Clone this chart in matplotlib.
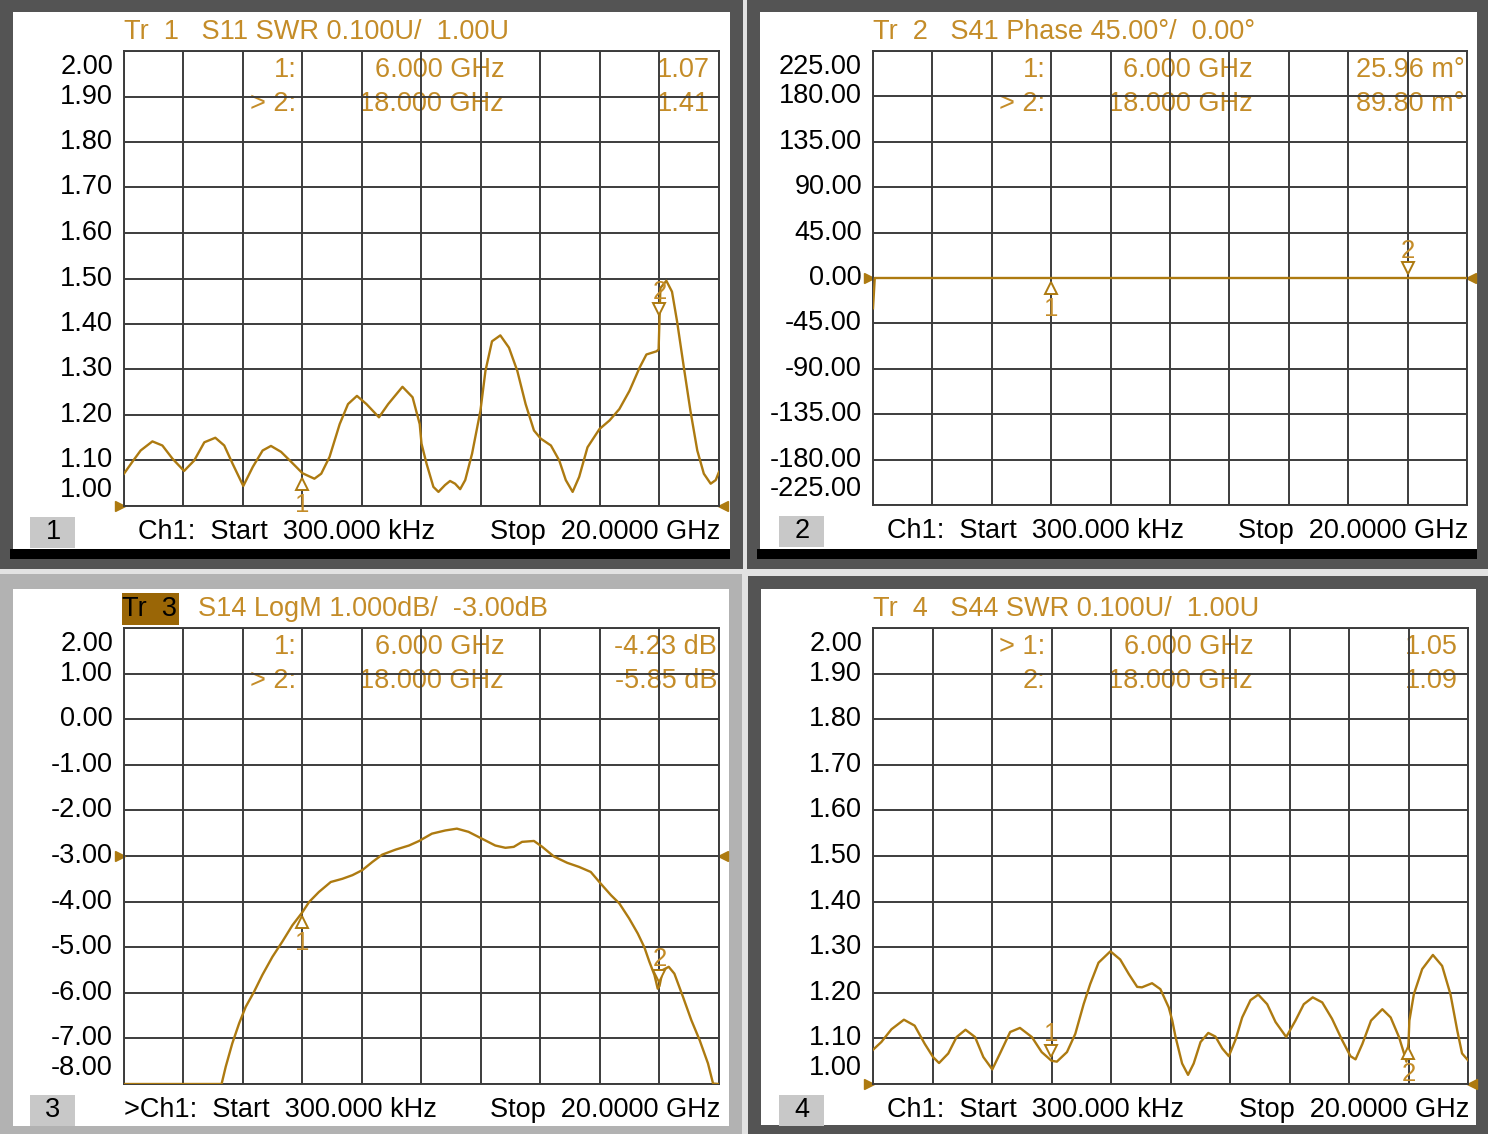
import matplotlib
matplotlib.use("Agg")
import matplotlib.pyplot as plt
import matplotlib.transforms as mtransforms
from matplotlib.patches import Rectangle
import numpy as np

plt.rcParams['font.family'] = ['Liberation Sans', 'DejaVu Sans']

# --- trace data (GHz, value) ---
s11_f = [0, 0.28, 0.56, 0.955, 1.29, 1.63, 2.02, 2.36, 2.70, 3.07, 3.37, 3.65, 4.01, 4.33, 4.66,
         4.94, 5.28, 5.62, 6.0, 6.40, 6.63, 6.91, 7.25, 7.53, 7.83, 8.15, 8.57, 8.88, 9.36, 9.70,
         9.94, 10.0, 10.17, 10.40, 10.57, 10.79, 10.96, 11.13, 11.30, 11.47, 11.70, 11.98, 12.15,
         12.37, 12.65, 12.94, 13.22, 13.50, 13.78, 14.01, 14.35, 14.63, 14.85, 15.08, 15.30, 15.58,
         15.98, 16.32, 16.65, 16.99, 17.33, 17.56, 17.90, 17.97, 18.0, 18.03, 18.23, 18.42, 18.59,
         18.82, 19.04, 19.27, 19.49, 19.72, 19.89, 20.0]
s11_v = [1.071, 1.097, 1.122, 1.142, 1.133, 1.104, 1.077, 1.100, 1.140, 1.150, 1.133, 1.093, 1.044,
         1.086, 1.122, 1.132, 1.119, 1.097, 1.072, 1.060, 1.071, 1.108, 1.180, 1.224, 1.242, 1.224,
         1.195, 1.224, 1.262, 1.239, 1.180, 1.137, 1.093, 1.042, 1.031, 1.046, 1.055, 1.049, 1.037,
         1.057, 1.115, 1.209, 1.297, 1.362, 1.375, 1.348, 1.297, 1.224, 1.166, 1.148, 1.133, 1.100,
         1.057, 1.031, 1.064, 1.129, 1.169, 1.188, 1.213, 1.253, 1.304, 1.333, 1.340, 1.344, 1.41,
         1.479, 1.495, 1.471, 1.406, 1.304, 1.209, 1.122, 1.071, 1.049, 1.057, 1.075]

s41_f = [0.0003, 0.06, 20.0]
s41_v = [-30.0, 0.0, 0.0]

s14_f = [0, 3.28, 3.42, 3.64, 3.87, 4.09, 4.37, 4.65, 4.99, 5.32, 5.66, 6.0, 6.22, 6.55, 6.95,
         7.34, 7.68, 8.01, 8.35, 8.68, 9.13, 9.58, 9.92, 10.35, 10.80, 11.19, 11.58, 12.03, 12.48,
         12.82, 13.10, 13.38, 13.78, 14.06, 14.45, 14.90, 15.30, 15.69, 16.03, 16.37, 16.65, 16.98,
         17.27, 17.49, 17.66, 17.83, 17.94, 18.0, 18.11, 18.31, 18.50, 18.79, 19.07, 19.35, 19.63,
         19.80, 20.0]
s14_v = [-8.0, -8.0, -7.62, -7.11, -6.67, -6.31, -5.98, -5.61, -5.21, -4.88, -4.52, -4.23, -4.01,
         -3.79, -3.57, -3.50, -3.42, -3.31, -3.13, -2.97, -2.86, -2.77, -2.67, -2.51, -2.44, -2.40,
         -2.47, -2.62, -2.77, -2.82, -2.80, -2.69, -2.67, -2.80, -3.01, -3.15, -3.24, -3.35, -3.61,
         -3.86, -4.04, -4.37, -4.70, -5.0, -5.32, -5.61, -5.91, -5.85, -5.50, -5.43, -5.58, -6.09,
         -6.60, -7.04, -7.55, -7.99, -8.0]

s44_f = [0, 0.28, 0.62, 1.04, 1.40, 1.74, 2.02, 2.22, 2.53, 2.81, 3.11, 3.43, 3.71, 4.01, 4.27,
         4.61, 4.94, 5.34, 5.67, 6.0, 6.18, 6.52, 6.80, 7.08, 7.30, 7.58, 7.98, 8.31, 8.60, 8.88,
         9.04, 9.38, 9.66, 9.94, 10.06, 10.17, 10.39, 10.59, 10.78, 11.01, 11.27, 11.51, 11.74,
         11.96, 12.18, 12.41, 12.69, 12.95, 13.25, 13.53, 13.89, 14.20, 14.48, 14.78, 15.10, 15.43,
         15.77, 16.05, 16.22, 16.45, 16.74, 17.12, 17.40, 17.68, 17.85, 17.93, 18.0, 18.03, 18.18,
         18.46, 18.82, 19.13, 19.41, 19.64, 19.80, 20.0]
s44_v = [1.075, 1.092, 1.120, 1.141, 1.128, 1.088, 1.059, 1.046, 1.067, 1.103, 1.119, 1.103, 1.059,
         1.032, 1.067, 1.114, 1.123, 1.103, 1.070, 1.051, 1.049, 1.070, 1.110, 1.175, 1.219, 1.266,
         1.291, 1.273, 1.241, 1.213, 1.212, 1.221, 1.208, 1.168, 1.139, 1.103, 1.045, 1.020, 1.045,
         1.092, 1.112, 1.104, 1.078, 1.061, 1.096, 1.146, 1.184, 1.196, 1.175, 1.136, 1.103, 1.139,
         1.175, 1.190, 1.179, 1.143, 1.096, 1.061, 1.054, 1.088, 1.139, 1.164, 1.146, 1.103, 1.067,
         1.049, 1.09, 1.139, 1.197, 1.252, 1.283, 1.259, 1.197, 1.117, 1.067, 1.052]

# markers
mk_f = [6.0, 18.0]
s11_mk = [1.07, 1.41]
s41_mk = [0.02596, 0.0898]
s14_mk = [-4.23, -5.85]
s44_mk = [1.05, 1.09]

swr_ticks = ["2.00", "1.90", "1.80", "1.70", "1.60", "1.50", "1.40", "1.30", "1.20", "1.10", "1.00"]
phase_ticks = ["225.00", "180.00", "135.00", "90.00", "45.00", "0.00", "-45.00", "-90.00",
               "-135.00", "-180.00", "-225.00"]
logm_ticks = ["2.00", "1.00", "0.00", "-1.00", "-2.00", "-3.00", "-4.00", "-5.00", "-6.00",
              "-7.00", "-8.00"]

TRACE = "#ad7a10"
TXT = "#c48c28"
GRID = "#3c3c3c"
FS = 19.5

W, H = 1488, 1134
fig = plt.figure(figsize=(W / 100, H / 100), dpi=100, facecolor="#e2e2e2")
bg = fig.add_axes([0, 0, 1, 1])
bg.set_xlim(0, W)
bg.set_ylim(H, 0)
bg.axis("off")


def frame(x0, y0, x1, y1, col, inner, bar=True):
    bg.add_patch(Rectangle((x0, y0), x1 - x0, y1 - y0, color=col, lw=0))
    ix0, iy0, ix1, iy1 = inner
    bg.add_patch(Rectangle((ix0, iy0), ix1 - ix0, iy1 - iy0, color="white", lw=0))
    if bar:
        bg.add_patch(Rectangle((ix0 - 3, iy1), ix1 - ix0 + 3, 10, color="black", lw=0))


frame(0, 0, 743, 569, "#545454", (13, 12, 730, 549))
frame(747, 0, 1488, 569, "#545454", (760, 12, 1477, 549))
frame(0, 574, 742, 1134, "#b2b2b2", (13, 589, 729, 1126), bar=False)
frame(748, 576, 1488, 1134, "#545454", (761, 589, 1476, 1125), bar=False)


def panel(box, f, v, ylo, yhi, ticks, ref, mk_v, active, title, rows, num, rpad=8, chpre="",
          trbox=False):
    x0, y0, x1, y1 = box
    ax = fig.add_axes([x0 / W, 1 - y1 / H, (x1 - x0) / W, (y1 - y0) / H])
    ax.set_xlim(0.0003, 20.0)
    ax.set_ylim(ylo, yhi)
    ax.set_xticks(np.linspace(0.0003, 20.0, 11))
    ax.set_yticks(np.linspace(ylo, yhi, 11))
    ax.tick_params(length=0, labelbottom=False, labelleft=False)
    ax.grid(True, color=GRID, lw=1.4)
    for s in ax.spines.values():
        s.set_color(GRID)
        s.set_linewidth(1.4)
    ax.set_facecolor("none")
    ax.plot(f, v, color=TRACE, lw=1.7, zorder=3)

    # y labels, end ones pushed inside
    yv = np.linspace(yhi, ylo, 11)
    for i, (val, lab) in enumerate(zip(yv, ticks)):
        dy = -16 if i == 0 else (16 if i == 10 else 0)
        tr = mtransforms.offset_copy(ax.get_yaxis_transform(), fig=fig, x=-11, y=dy, units="dots")
        ax.text(0, val, lab, transform=tr, ha="right", va="center", fontsize=FS, color="black")

    # reference arrows
    tl = mtransforms.offset_copy(ax.transData, fig=fig, x=-4, units="dots")
    tr_ = mtransforms.offset_copy(ax.transData, fig=fig, x=4, units="dots")
    ax.plot([0.0003], [ref], marker=">", ms=7, color=TRACE, transform=tl, clip_on=False)
    ax.plot([20.0], [ref], marker="<", ms=7, color=TRACE, transform=tr_, clip_on=False)

    # markers
    for k, (mf, mv) in enumerate(zip(mk_f, mk_v)):
        up = (k == active)
        sgn = 1 if up else -1
        tm = mtransforms.offset_copy(ax.transData, fig=fig, y=sgn * 10, units="dots")
        tt = mtransforms.offset_copy(ax.transData, fig=fig, y=27 if up else -31, units="dots")
        ax.plot([mf], [mv], marker="v" if up else "^", ms=9, mfc="white", mec=TRACE, mew=1.4,
                transform=tm, zorder=4, clip_on=False)
        ax.text(mf, mv, str(k + 1), transform=tt, ha="center", va="center", fontsize=FS - 1,
                color=TXT, zorder=4, clip_on=False)

    # title
    ty = y0 - 19
    if trbox:
        bg.add_patch(Rectangle((x0 - 2, ty - 16), 57, 32, color="#9a6606", lw=0))
        bg.text(x0 + 26, ty, title[0], ha="center", va="center", fontsize=FS, color="black")
        bg.text(x0 + 74, ty, title[1], ha="left", va="center", fontsize=FS, color=TXT)
    else:
        bg.text(x0, ty, title, ha="left", va="center", fontsize=FS, color=TXT)

    # marker readouts
    pw = x1 - x0
    for r, (a, b, c) in enumerate(rows):
        yy = y0 + 19 + r * 34
        bg.text(x0 + 0.29 * pw, yy, a, ha="right", va="center", fontsize=FS, color=TXT)
        bg.text(x0 + 0.639 * pw, yy, b, ha="right", va="center", fontsize=FS, color=TXT)
        bg.text(x1 - rpad, yy, c, ha="right", va="center", fontsize=FS, color=TXT)

    # bottom line
    by = y1 + 26
    bg.add_patch(Rectangle((x0 - 94, by - 15), 45, 31, color="#c8c8c8", lw=0))
    bg.text(x0 - 71, by, num, ha="center", va="center", fontsize=FS, color="black")
    lx = x0 if chpre else x0 + 14
    bg.text(lx, by, chpre + "Ch1:  Start  300.000 kHz", ha="left", va="center", fontsize=FS,
            color="black")
    bg.text(x1 + 1, by, "Stop  20.0000 GHz", ha="right", va="center", fontsize=FS, color="black")
    return ax


panel((124, 51, 719, 506), s11_f, s11_v, 1.0, 2.0, swr_ticks, 1.0, s11_mk, 1,
      "Tr  1   S11 SWR 0.100U/  1.00U",
      [("1:", "6.000 GHz", "1.07"), ("> 2:", "18.000 GHz", "1.41")], "1", rpad=9)
panel((873, 51, 1467, 505), s41_f, s41_v, -225.0, 225.0, phase_ticks, 0.0, s41_mk, 1,
      "Tr  2   S41 Phase 45.00°/  0.00°",
      [("1:", "6.000 GHz", "25.96 m°"), ("> 2:", "18.000 GHz", "89.80 m°")], "2", rpad=2)
panel((124, 628, 719, 1084), s14_f, s14_v, -8.0, 2.0, logm_ticks, -3.0, s14_mk, 1,
      ("Tr  3", "S14 LogM 1.000dB/  -3.00dB"),
      [("1:", "6.000 GHz", "-4.23 dB"), ("> 2:", "18.000 GHz", "-5.85 dB")], "3", rpad=2,
      chpre=">", trbox=True)
panel((873, 628, 1468, 1084), s44_f, s44_v, 1.0, 2.0, swr_ticks, 1.0, s44_mk, 0,
      "Tr  4   S44 SWR 0.100U/  1.00U",
      [("> 1:", "6.000 GHz", "1.05"), ("2:", "18.000 GHz", "1.09")], "4", rpad=10)

fig.savefig("out.png", dpi=100, facecolor=fig.get_facecolor())
